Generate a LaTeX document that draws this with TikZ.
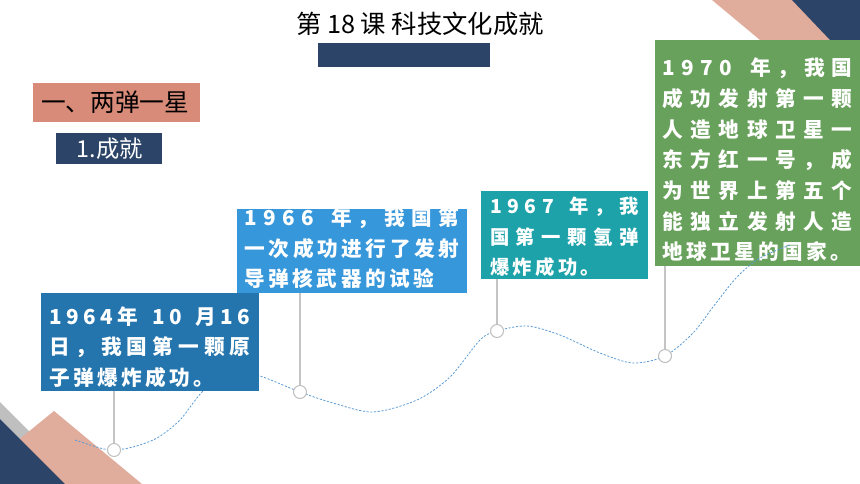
\documentclass[tikz,border=0pt]{standalone}
\usepackage{fontspec}
\setmainfont{Noto Sans CJK SC}
\usepackage{tikz}
\usetikzlibrary{calc,positioning,fit}
\definecolor{navyc}{HTML}{2B4468}
\definecolor{pinkc}{HTML}{E0AC9C}
\definecolor{grayc}{HTML}{BFBFBF}
\definecolor{salmonc}{HTML}{D78B78}
\definecolor{darkbluec}{HTML}{2475AE}
\definecolor{lightbluec}{HTML}{3797DB}
\definecolor{tealc}{HTML}{1DA2A9}
\definecolor{greenc}{HTML}{68A15B}
\definecolor{wavec}{HTML}{5B9BD5}
\definecolor{stickc}{HTML}{C4C4C4}

% spread a line over a given width, or set it with a fixed gap
\makeatletter
\newcommand{\spreadline}[2]{\makebox[#1][s]{\sl@first#2\relax}}
\def\sl@first#1{#1\sl@next}
\def\sl@next#1{\ifx#1\relax\else\hfil#1\expandafter\sl@next\fi}
\newcommand{\gapline}[2]{\def\gl@gap{\hspace{#1}}\gl@first#2\relax}
\def\gl@first#1{#1\gl@next}
\def\gl@next#1{\ifx#1\relax\else\gl@gap#1\expandafter\gl@next\fi}
\makeatother

\begin{document}
\begin{tikzpicture}[x=0.75pt,y=-0.75pt]
      \tikzstyle{panel} = [inner sep=0pt, draw=none]
      \tikzstyle{btext} = [text=white, align=left, inner sep=0pt, font=\bfseries\fontsize{15.5}{23}\selectfont]
      \tikzstyle{stick} = [draw=stickc, line width=1.1pt]
      \tikzstyle{dot} = [circle, draw=grayc, fill=white, line width=0.8pt, minimum size=9.75pt, inner sep=0pt]
      \tikzstyle{wave} = [draw=wavec, line width=0.6pt, dash pattern=on 1.6pt off 1.2pt]

      \useasboundingbox (0,0) rectangle (860,484);

      % corners
      \fill[pinkc] (712,0) -- (860,0) -- (860,60) -- (784,60) -- cycle;
      \fill[navyc] (792,0) -- (860,0) -- (860,60) -- (849,60) -- cycle;
      \fill[grayc] (0,402) -- (82,484) -- (0,484) -- cycle;
      \fill[pinkc] (54,411) -- (142,484) -- (0,484) -- (0,455) -- cycle;
      \fill[navyc] (0,419) -- (65,484) -- (0,484) -- cycle;

      % heading
      \node[font=\fontsize{19}{21}\selectfont] (title) at (420,24) {第 18 课 科技文化成就};
      \node[panel, fill=navyc, fit={(318,43) (490,67)}] (titlebar) {};
      \node[panel, fill=salmonc, fit={(33,83) (200,122)}] (part) {};
      \node[font=\fontsize{18.5}{20}\selectfont] (tpart) at ([xshift=-1pt]part.center) {一、两弹一星};
      \node[panel, fill=navyc, fit={(56,133) (162,164)}] (sub) {};
      \node[text=white, font=\fontsize{17.5}{19}\selectfont] (tsub) at ([xshift=0.5pt]sub.center) {1.成就};

      % boxes
      \node[panel, fill=greenc, fit={(655,40) (860,266)}] (b1970) {};
      \node[btext] (t1970) at ([yshift=-5.3pt]b1970.center) {%
        \spreadline{142.5pt}{1970~年，我国}\\
        \spreadline{142.5pt}{成功发射第一颗}\\
        \spreadline{142.5pt}{人造地球卫星一}\\
        \spreadline{142.5pt}{东方红一号，成}\\
        \spreadline{142.5pt}{为世界上第五个}\\
        \spreadline{142.5pt}{能独立发射人造}\\
        \gapline{2.5pt}{地球卫星的国家。}};

      \node[panel, fill=tealc, fit={(481,191) (648,279)}] (b1967) {};
      \node[btext, font=\bfseries\fontsize{14.5}{23}\selectfont] (t1967) at ([yshift=-1.5pt]b1967.center) {%
        \spreadline{111.75pt}{1967~年，我}\\
        \spreadline{111.75pt}{国第一颗氢弹}\\
        \gapline{2.5pt}{爆炸成功。}};

      \node[panel, fill=lightbluec, fit={(237,209) (467,293)}] (b1966) {};
      \node[btext] (t1966) at ([yshift=2pt]b1966.center) {%
        \spreadline{161.25pt}{1966~年，我国第}\\
        \spreadline{161.25pt}{一次成功进行了发射}\\
        \gapline{2.6pt}{导弹核武器的试验}};

      % timeline
      \coordinate (c1) at (114,450);
      \coordinate (c2) at (300,392);
      \coordinate (c3) at (497,331);
      \coordinate (c4) at (665,356);
      \draw[wave] plot[smooth, tension=0.5] coordinates {(75,440) (100,448) (c1) (133,447) (157,438) (180,420) (203,391) (232,371) (260,376) (c2) (333,403) (373,412) (417,400) (450,377) (480,340) (c3) (527,326) (560,335) (600,353) (633,363) (c4) (693,333) (713,307) (737,277) (760,258) (790,245)};

      \node[dot] (p1964) at (c1) {};
      \node[dot] (p1966) at (c2) {};
      \node[dot] (p1967) at (c3) {};
      \node[dot] (p1970) at (c4) {};

      \node[panel, fill=darkbluec, fit={(41,293) (259,391)}] (b1964) {};
      \node[btext] (t1964) at ([yshift=-3.75pt]b1964.center) {%
        \spreadline{150.75pt}{1964年~10~月16}\\
        \spreadline{150.75pt}{日，我国第一颗原}\\
        \gapline{2.5pt}{子弹爆炸成功。}};

      \draw[stick] (b1964.south -| p1964) -- (p1964);
      \draw[stick] (b1966.south -| p1966) -- (p1966);
      \draw[stick] (b1967.south -| p1967) -- (p1967);
      \draw[stick] (b1970.south -| p1970) -- (p1970);
\end{tikzpicture}
\end{document}
